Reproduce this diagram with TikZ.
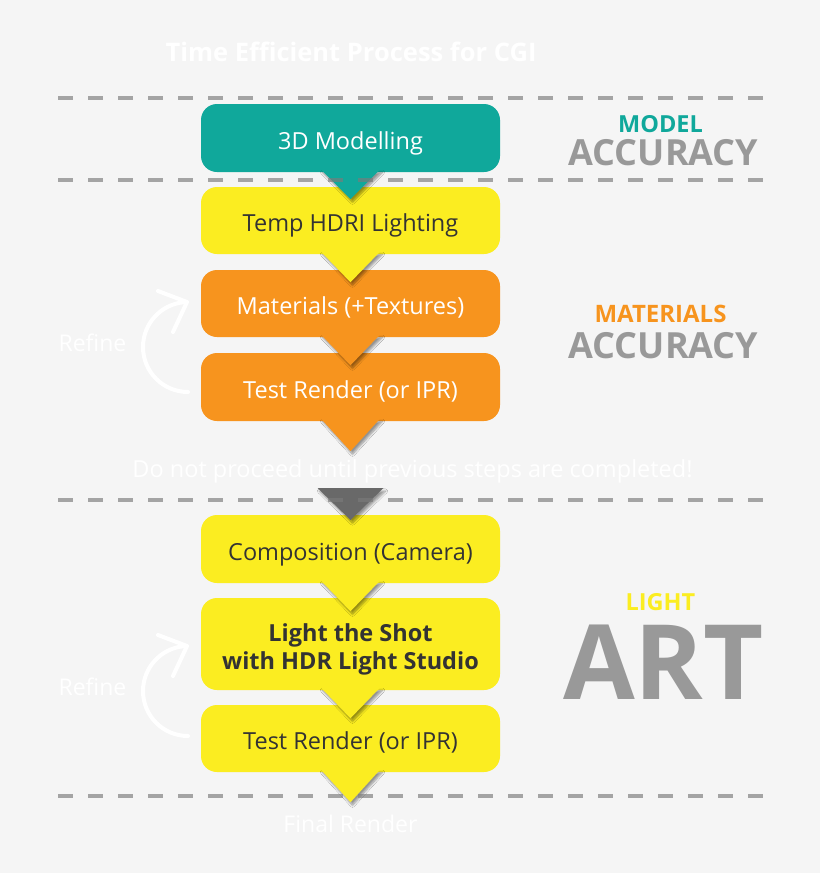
\documentclass[tikz,border=0pt]{standalone}
\usepackage{fontspec}
\setmainfont{Open Sans}
\usetikzlibrary{shadows.blur}
\definecolor{bg}{HTML}{F5F5F5}
\definecolor{teal1}{HTML}{10A89B}
\definecolor{yel}{HTML}{FBED21}
\definecolor{ora}{HTML}{F7941E}
\definecolor{lab}{HTML}{999999}
\definecolor{txt}{HTML}{333333}
\definecolor{dark}{HTML}{696969}
\definecolor{dash}{HTML}{7A7A7A}
\tikzset{
  stepbox/.style={rounded corners=16pt, minimum width=299pt, inner sep=0pt, align=center,
    font=\fontsize{23.5}{28}\selectfont, text height=22pt, text depth=0pt},
  tealbox/.style={stepbox, fill=teal1, text=white, minimum height=68pt},
  yelbox/.style={stepbox, fill=yel, text=txt, minimum height=67pt},
  orabox/.style={stepbox, fill=ora, text=white, minimum height=67pt},
  pointer/.style={blur shadow={shadow blur steps=6, shadow xshift=2pt, shadow yshift=-3pt, shadow opacity=40}},
  sep/.style={draw=dash, opacity=0.65, line width=3.5pt, dash pattern=on 15pt off 15pt},
  note/.style={text=white, font=\fontsize{23}{26}\selectfont},
  refine/.style={draw=white, line width=4pt, line cap=round, line join=round},
  small/.style={font=\bfseries\fontsize{23.5}{26}\selectfont},
  big/.style={text=lab, font=\bfseries\fontsize{36}{40}\selectfont}
}
\begin{document}
\begin{tikzpicture}[x=1pt,y=-1pt]
\fill[bg] (0,0) rectangle (820,873);
\useasboundingbox (0,0) rectangle (820,873);

% title
\node[text=white, font=\bfseries\fontsize{25.5}{30}\selectfont] (title) at (351,52) {Time Efficient Process for CGI};

% boxes
\node[tealbox] (b1) at (350.5,138) {3D Modelling};
\node[yelbox] (b2) at (350.5,220.5) {Temp HDRI Lighting};
\fill[teal1, pointer] ([xshift=-30pt,yshift=3pt]b1.south) -- ([xshift=30pt,yshift=3pt]b1.south) -- ([yshift=-27pt]b1.south) -- cycle;
\node[orabox] (b3) at (350.5,303.5) {Materials (+Textures)};
\fill[yel, pointer] ([xshift=-30pt,yshift=3pt]b2.south) -- ([xshift=30pt,yshift=3pt]b2.south) -- ([yshift=-28pt]b2.south) -- cycle;
\node[orabox, minimum height=68pt] (b4) at (350.5,387) {Test Render (or IPR)};
\fill[ora, pointer] ([xshift=-30pt,yshift=3pt]b3.south) -- ([xshift=30pt,yshift=3pt]b3.south) -- ([yshift=-28pt]b3.south) -- cycle;
\fill[ora, pointer] ([xshift=-30pt,yshift=3pt]b4.south) -- ([xshift=30pt,yshift=3pt]b4.south) -- ([yshift=-30pt]b4.south) -- cycle;

\node[note, font=\fontsize{23.5}{26}\selectfont] (warn) at (412.5,471) {Do not proceed until previous steps are completed!};

\node[yelbox, minimum height=68pt] (b5) at (350.5,549) {Composition (Camera)};
\coordinate (gate) at (350.5,488);
\fill[dark, pointer] ([xshift=-33pt]gate) -- ([xshift=33pt]gate) -- ([yshift=-32pt]gate) -- cycle;
\node[yelbox, minimum height=92pt, text height=54pt, text depth=4pt, font=\bfseries\fontsize{23.5}{28}\selectfont] (b6) at (350.5,644) {Light the Shot\\with HDR Light Studio};
\fill[yel, pointer] ([xshift=-30pt,yshift=3pt]b5.south) -- ([xshift=30pt,yshift=3pt]b5.south) -- ([yshift=-28pt]b5.south) -- cycle;
\node[yelbox] (b7) at (350.5,738.5) {Test Render (or IPR)};
\fill[yel, pointer] ([xshift=-30pt,yshift=3pt]b6.south) -- ([xshift=30pt,yshift=3pt]b6.south) -- ([yshift=-28pt]b6.south) -- cycle;
\fill[yel, pointer] ([xshift=-30pt,yshift=3pt]b7.south) -- ([xshift=30pt,yshift=3pt]b7.south) -- ([yshift=-30pt]b7.south) -- cycle;

% dashed separators
\draw[sep] (58,98) -- (765,98);
\draw[sep] (58,180) -- (765,180);
\draw[sep] (58,500) -- (765,500);
\draw[sep] (58,796) -- (765,796);

\node[note] (final) at (350.5,824) {Final Render};

% refine loops
\foreach \dy/\nm in {0/r1, 344/r2} {
  \begin{scope}[yshift=-\dy pt]
    \draw[refine] (188,392) arc[start angle=90, end angle=265, radius=45];
    \draw[refine] (158,291) -- (187,302) -- (173,332);
    \node[note] (\nm) at (92.5,343) {Refine};
  \end{scope}
}

% right side labels
\node[small, text=teal1] (m1) at (660.5,124) {MODEL};
\node[big] (m2) at (663.5,153) {ACCURACY};
\node[small, text=ora, font=\bfseries\fontsize{24}{26}\selectfont] (t1) at (660.5,314) {MATERIALS};
\node[big] (t2) at (663.5,346) {ACCURACY};
\node[small, text=yel] (l1) at (660.5,602) {LIGHT};
\node[text=lab, font=\bfseries\fontsize{104}{112}\selectfont] (l2) at (663.5,662) {ART};
\end{tikzpicture}
\end{document}
